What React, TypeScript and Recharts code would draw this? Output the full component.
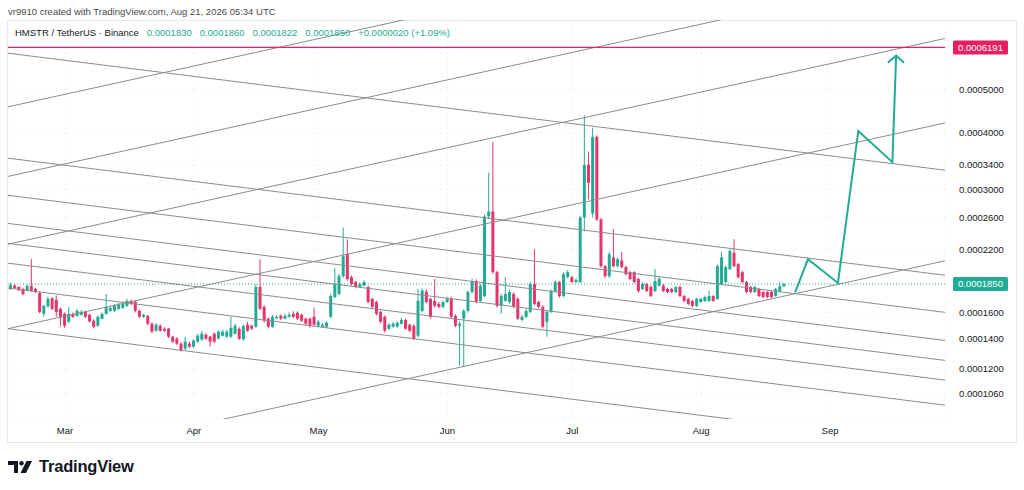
import React from 'react';
import { ComposedChart, Bar, Line, XAxis, YAxis, CartesianGrid, ReferenceLine } from 'recharts';

// prices below are in units of 1e-7 USDT
const PRICE_UNIT = 1e-7;

// daily candles [open, high, low, close], first candle is Feb 16
const febCandles = [
  [1804, 1865, 1795, 1840], [1836, 1850, 1805, 1813], [1822, 1830, 1785, 1792], [1804, 1815, 1745, 1758],
  [1792, 1845, 1785, 1831], [1831, 2101, 1775, 1785], [1804, 1815, 1765, 1776], [1767, 1780, 1595, 1605],
  [1589, 1665, 1565, 1655], [1650, 1735, 1640, 1715], [1720, 1730, 1620, 1630], [1705, 1745, 1565, 1605],
  [1630, 1640, 1490, 1565],
];
const marCandles = [
  [1589, 1600, 1480, 1495], [1526, 1646, 1515, 1589], [1589, 1600, 1555, 1565], [1573, 1630, 1565, 1613],
  [1581, 1620, 1575, 1605], [1605, 1615, 1555, 1565], [1581, 1590, 1520, 1530], [1534, 1545, 1475, 1488],
  [1495, 1575, 1488, 1565], [1550, 1600, 1545, 1589], [1589, 1758, 1580, 1646], [1613, 1655, 1605, 1638],
  [1613, 1672, 1605, 1655], [1630, 1680, 1620, 1663], [1638, 1690, 1630, 1672], [1655, 1715, 1645, 1697],
  [1697, 1710, 1660, 1672], [1690, 1700, 1600, 1613], [1613, 1625, 1555, 1565], [1565, 1590, 1555, 1581],
  [1573, 1580, 1500, 1511], [1511, 1520, 1440, 1451], [1458, 1515, 1450, 1503], [1495, 1505, 1450, 1458],
  [1473, 1485, 1450, 1458], [1473, 1480, 1405, 1414], [1414, 1420, 1370, 1379], [1400, 1410, 1355, 1365],
  [1365, 1375, 1310, 1320], [1331, 1414, 1320, 1379], [1365, 1380, 1335, 1344],
];
const aprCandles = [
  [1344, 1395, 1335, 1386], [1379, 1435, 1370, 1421], [1393, 1455, 1385, 1436], [1428, 1440, 1390, 1400],
  [1414, 1420, 1344, 1379], [1436, 1445, 1370, 1379], [1400, 1460, 1395, 1451], [1421, 1465, 1415, 1451],
  [1414, 1465, 1405, 1451], [1414, 1565, 1405, 1480], [1436, 1510, 1430, 1495], [1473, 1485, 1390, 1400],
  [1395, 1505, 1385, 1492], [1503, 1525, 1450, 1458], [1495, 1505, 1465, 1473], [1488, 1850, 1480, 1822],
  [1822, 2101, 1620, 1630], [1646, 1660, 1520, 1534], [1550, 1560, 1475, 1488], [1488, 1580, 1480, 1565],
  [1555, 1580, 1545, 1565], [1573, 1585, 1540, 1550], [1550, 1590, 1545, 1573], [1565, 1600, 1558, 1581],
  [1589, 1610, 1555, 1565], [1597, 1610, 1540, 1550], [1581, 1590, 1525, 1534], [1550, 1560, 1500, 1511],
  [1550, 1560, 1480, 1495], [1565, 1640, 1495, 1503],
];
const mayCandles = [
  [1495, 1540, 1488, 1526], [1488, 1515, 1480, 1503], [1488, 1530, 1480, 1518], [1565, 1760, 1555, 1740],
  [1731, 2007, 1720, 1850], [1758, 1950, 1745, 1926], [1926, 2470, 1910, 2132], [2154, 2325, 1880, 1898],
  [1916, 1930, 1835, 1850], [1869, 1880, 1810, 1822], [1822, 1865, 1815, 1850], [1835, 1885, 1830, 1869],
  [1822, 1835, 1675, 1688], [1715, 1725, 1635, 1646], [1688, 1700, 1575, 1589], [1605, 1615, 1515, 1526],
  [1565, 1575, 1445, 1458], [1473, 1515, 1465, 1503], [1488, 1525, 1480, 1511], [1488, 1530, 1480, 1518],
  [1511, 1555, 1505, 1540], [1540, 1550, 1465, 1473], [1503, 1510, 1445, 1458], [1495, 1505, 1390, 1400],
  [1421, 1804, 1410, 1697], [1613, 1810, 1600, 1790], [1780, 1800, 1675, 1688], [1715, 1725, 1550, 1565],
  [1697, 1898, 1640, 1655], [1672, 1690, 1635, 1646], [1646, 1700, 1635, 1688],
];
const junCandles = [
  [1688, 1730, 1680, 1715], [1715, 1735, 1550, 1565], [1573, 1585, 1485, 1495], [1495, 1530, 1221, 1511],
  [1550, 1630, 1215, 1613], [1613, 1790, 1600, 1776], [1776, 1900, 1765, 1878], [1878, 1895, 1675, 1688],
  [1697, 1850, 1690, 1835], [1740, 2640, 1730, 2612], [2612, 3265, 2580, 2679], [2679, 3820, 1950, 1966],
  [1966, 1980, 1640, 1655], [1655, 1760, 1589, 1740], [1697, 1916, 1690, 1758], [1688, 1795, 1675, 1776],
  [1758, 1775, 1635, 1646], [1715, 1730, 1540, 1550], [1540, 1580, 1530, 1565], [1565, 1630, 1555, 1613],
  [1605, 1870, 1595, 1850], [1850, 2210, 1660, 1672], [1688, 1700, 1635, 1646], [1646, 1660, 1475, 1488],
  [1526, 1620, 1414, 1605], [1605, 1800, 1595, 1785], [1785, 1885, 1775, 1869], [1869, 1880, 1725, 1740],
  [1740, 1965, 1730, 1946], [1916, 1985, 1905, 1966],
];
const julCandles = [
  [1916, 1930, 1860, 1869], [1869, 1905, 1860, 1888], [1869, 2620, 1860, 2598], [2598, 4380, 2420, 3400],
  [3400, 3640, 2848, 3103], [2650, 4110, 2600, 3920], [3920, 3950, 2550, 2573], [2573, 2590, 2010, 2027],
  [2027, 2040, 1910, 1926], [1926, 2180, 1910, 2154], [2120, 2446, 2015, 2027], [2027, 2120, 2015, 2101],
  [2085, 2180, 2005, 2017], [2017, 2030, 1935, 1946], [1966, 1980, 1885, 1898], [1966, 1975, 1855, 1869],
  [1898, 1910, 1770, 1785], [1804, 1865, 1795, 1850], [1850, 1860, 1775, 1785], [1822, 1835, 1730, 1740],
  [1785, 1997, 1775, 1878], [1835, 1915, 1825, 1898], [1835, 1850, 1775, 1785], [1804, 1815, 1765, 1776],
  [1804, 1815, 1765, 1776], [1776, 1835, 1765, 1822], [1822, 1835, 1730, 1740], [1740, 1750, 1685, 1697],
  [1715, 1725, 1660, 1672], [1697, 1705, 1645, 1655], [1655, 1725, 1645, 1715],
];
const augCandles = [
  [1688, 1725, 1680, 1715], [1697, 1745, 1690, 1731], [1697, 1790, 1690, 1740], [1740, 1750, 1690, 1697],
  [1715, 2045, 1705, 2027], [1850, 2180, 1840, 2120], [1869, 2035, 1860, 2017], [1997, 2210, 1985, 2188],
  [2170, 2325, 2015, 2027], [2048, 2060, 1900, 1916], [1966, 1980, 1855, 1869], [1869, 1880, 1765, 1776],
  [1822, 1835, 1765, 1776], [1776, 1835, 1765, 1822], [1804, 1815, 1730, 1740], [1776, 1785, 1720, 1731],
  [1776, 1785, 1720, 1731], [1776, 1790, 1720, 1731], [1740, 1815, 1735, 1804], [1785, 1865, 1775, 1830],
  [1830, 1860, 1822, 1850],
];

// x axis: day index, 0 = Feb 16
const MONTH_TICKS = [13, 44, 74, 105, 135, 166, 197];
const MONTH_LABELS = ['Mar', 'Apr', 'May', 'Jun', 'Jul', 'Aug', 'Sep'];
const X_DOMAIN = [-0.7, 224.65];

const PRICE_TICKS = [0.000106, 0.00012, 0.00014, 0.00016, 0.00019, 0.00022, 0.00026, 0.0003, 0.00034, 0.0004, 0.0005, 0.0006];
// these two levels sit under the price tags, so only their grid line shows
const COVERED_TICKS = [0.00019, 0.0006];
const Y_DOMAIN = [0.0000929, 0.000712];

// drawn trend lines: [price at left edge, price at right edge]
const RISING_LINES = [
  [0.0004571, 0.0013066],
  [0.0003205, 0.0009163],
  [0.0002267, 0.000648],
  [0.0001473, 0.000421],
  [0.0000729, 0.0002083],
];
const FALLING_LINES = [
  [0.0006011, 0.0003308],
  [0.0003517, 0.0001935],
  [0.000291, 0.0001601],
  [0.0002521, 0.0001387],
  [0.0002277, 0.0001253],
  [0.0002058, 0.0001133],
  [0.0001813, 0.0000997],
  [0.0001473, 0.000081],
];

const TARGET_PRICE = 0.0006191;
const LAST_PRICE = 0.000185;

// projected path (green arrow)
const projection = [
  { d: 188.6, p: 0.0001774 },
  { d: 191.7, p: 0.0002101 },
  { d: 198.9, p: 0.000186 },
  { d: 203.8, p: 0.0004041 },
  { d: 212.0, p: 0.0003447 },
  { d: 212.9, p: 0.000594 },
];
const arrowHead = [
  { d: 210.9, p: 0.0005725 },
  { d: 212.9, p: 0.000594 },
  { d: 214.8, p: 0.0005725 },
];

const UP = '#22ab94';
const DOWN = '#e8336b';
const RED = '#e91e63';
const LINE_GRAY = '#8c8c8c';
const FONT = '"Liberation Sans", Arial, sans-serif';

const candles = [febCandles, marCandles, aprCandles, mayCandles, junCandles, julCandles, augCandles]
  .flat()
  .map(([o, h, l, c], i) => ({
    d: i,
    o: o * PRICE_UNIT,
    h: h * PRICE_UNIT,
    l: l * PRICE_UNIT,
    c: c * PRICE_UNIT,
    range: [l * PRICE_UNIT, h * PRICE_UNIT],
  }));

const Candle = (props: any) => {
  const { x, y, width, height, payload } = props;
  if (x == null || y == null || !payload) return null;
  const top = Math.min(y, y + height);
  const span = Math.abs(height);
  const lh = Math.log(payload.h);
  const ll = Math.log(payload.l);
  const toY = (v: number) => (lh - ll > 0 ? top + (span * (lh - Math.log(v))) / (lh - ll) : top);
  const color = payload.c >= payload.o ? UP : DOWN;
  const cx = x + width / 2;
  const bodyTop = toY(Math.max(payload.o, payload.c));
  const bodyBottom = toY(Math.min(payload.o, payload.c));
  return (
    <g>
      <line x1={cx} x2={cx} y1={top} y2={top + span} stroke={color} strokeWidth={1} />
      <rect x={cx - 1.5} y={bodyTop} width={3} height={Math.max(1, bodyBottom - bodyTop)} fill={color} />
    </g>
  );
};

const PriceTag = ({ viewBox, text, color }: any) => {
  if (!viewBox) return null;
  const { x, y, width } = viewBox;
  return (
    <g>
      <rect x={x + width + 8} y={y - 7} width={55} height={14} rx={1.5} fill={color} />
      <text x={x + width + 35.5} y={y} dy="0.35em" textAnchor="middle" fill="#fff" fontSize={9.5} fontFamily={FONT}>
        {text}
      </text>
    </g>
  );
};

const TvLogo = () => (
  <svg width={26} height={14} viewBox="0 0 26 14">
    <path d="M0 1 H10 V13 H6 V5 H0 Z" fill="#131722" />
    <circle cx={13.5} cy={3.2} r={2.2} fill="#131722" />
    <path d="M18.5 1 H24 L18 13 H12.5 Z" fill="#131722" />
  </svg>
);

export default function App() {
  return (
    <div style={{ position: 'absolute', left: 0, top: 0, width: 1024, height: 490, background: '#fff', fontFamily: FONT }}>
      <div style={{ position: 'absolute', left: 8, top: 6, fontSize: 9.5, color: '#4a4a4a' }}>
        vr9910 created with TradingView.com, Aug 21, 2026 05:34 UTC
      </div>

      <div style={{ position: 'absolute', left: 7, top: 20, width: 1008, height: 421, border: '1px solid #e6e8ee' }} />

      <div style={{ position: 'absolute', left: 8, top: 20 }}>
        <ComposedChart width={1008} height={422} data={candles} margin={{ top: 0, right: 0, bottom: 0, left: 0 }}>
          <CartesianGrid stroke="#e9ecf2" strokeDasharray="1 3" />
          <XAxis
            dataKey="d"
            type="number"
            domain={X_DOMAIN}
            allowDataOverflow
            ticks={MONTH_TICKS}
            interval={0}
            tickFormatter={(v: number) => MONTH_LABELS[MONTH_TICKS.indexOf(v)] ?? ''}
            height={23}
            axisLine={false}
            tickLine={false}
            tickSize={6}
            tickMargin={2}
            tick={{ fontSize: 9.5, fill: '#131722', fontFamily: FONT }}
          />
          <YAxis
            orientation="right"
            type="number"
            scale="log"
            domain={Y_DOMAIN}
            allowDataOverflow
            ticks={PRICE_TICKS}
            interval={0}
            tickFormatter={(v: number) => (COVERED_TICKS.includes(v) ? '' : v.toFixed(7))}
            width={71}
            axisLine={false}
            tickLine={false}
            tickSize={6}
            tickMargin={8}
            tick={{ fontSize: 9.5, fill: '#131722', fontFamily: FONT, textAnchor: 'start' }}
          />
          {RISING_LINES.map(([a, b], i) => (
            <ReferenceLine
              key={`r${i}`}
              segment={[{ x: X_DOMAIN[0], y: a }, { x: X_DOMAIN[1], y: b }]}
              stroke={LINE_GRAY}
              strokeWidth={1}
              ifOverflow="hidden"
            />
          ))}
          {FALLING_LINES.map(([a, b], i) => (
            <ReferenceLine
              key={`f${i}`}
              segment={[{ x: X_DOMAIN[0], y: a }, { x: X_DOMAIN[1], y: b }]}
              stroke={LINE_GRAY}
              strokeWidth={1}
              ifOverflow="hidden"
            />
          ))}
          <ReferenceLine
            y={LAST_PRICE}
            stroke={UP}
            strokeDasharray="1 2"
            label={(p: any) => <PriceTag viewBox={p.viewBox} text={LAST_PRICE.toFixed(7)} color={UP} />}
          />
          <Bar dataKey="range" barSize={3} shape={Candle} isAnimationActive={false} />
          <Line data={projection} dataKey="p" stroke={UP} strokeWidth={2} dot={false} type="linear" isAnimationActive={false} />
          <Line data={arrowHead} dataKey="p" stroke={UP} strokeWidth={2} dot={false} type="linear" isAnimationActive={false} />
          <ReferenceLine
            y={TARGET_PRICE}
            stroke={RED}
            strokeWidth={1.2}
            label={(p: any) => <PriceTag viewBox={p.viewBox} text={TARGET_PRICE.toFixed(7)} color={RED} />}
          />
        </ComposedChart>
      </div>

      <div style={{ position: 'absolute', left: 15, top: 27, fontSize: 9.5, color: '#131722', whiteSpace: 'pre' }}>
        HMSTR / TetherUS · Binance
        <span style={{ color: UP }}>{'   0.0001830   0.0001860   0.0001822   0.0001850   +0.0000020 (+1.09%)'}</span>
      </div>

      <div style={{ position: 'absolute', left: 8, top: 457, display: 'flex', alignItems: 'center', gap: 5 }}>
        <TvLogo />
        <span style={{ fontSize: 16.5, fontWeight: 700, color: '#131722', letterSpacing: -0.2 }}>TradingView</span>
      </div>
    </div>
  );
}
